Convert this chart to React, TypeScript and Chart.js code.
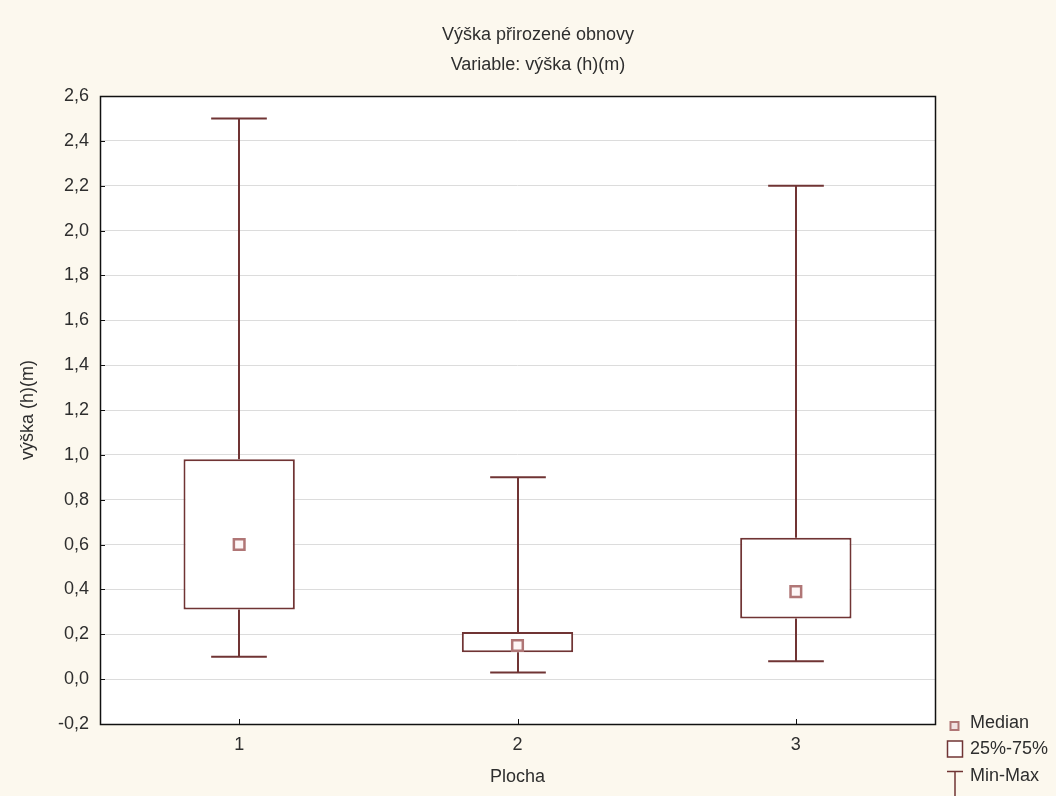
import { useEffect, useRef } from 'react';
import { Chart, registerables } from 'chart.js';

Chart.register(...registerables);

// Box-plot summary per plot (Plocha)
const plochy = ['1', '2', '3'];
const minima = [0.1, 0.03, 0.08];
const kvartil25 = [0.31, 0.12, 0.27];
const mediany = [0.6, 0.15, 0.39];
const kvartil75 = [0.98, 0.21, 0.63];
const maxima = [2.5, 0.9, 2.2];

const yMin = -0.2;
const yMax = 2.6;
const yStep = 0.2;

const titleLines = ['Výška přirozené obnovy', 'Variable: výška (h)(m)'];
const yTitle = 'výška (h)(m)';
const xTitle = 'Plocha';
const legendLabels = ['Median', '25%-75%', 'Min-Max'];

const FONT = "'Liberation Sans', Arial, sans-serif";
const FONT_SIZE = 18;
const PAGE_BG = '#fcf8ee';
const BOX_COLOR = '#703434';
const MEDIAN_COLOR = '#b07676';
const TEXT_COLOR = '#2e2e2e';

const W = 1056;
const H = 796;

const framePlugin = {
  id: 'frame',
  beforeDraw(chart: any) {
    const { ctx, chartArea: a } = chart;
    ctx.save();
    ctx.fillStyle = PAGE_BG;
    ctx.fillRect(0, 0, chart.width, chart.height);
    ctx.fillStyle = '#ffffff';
    ctx.fillRect(a.left, a.top, a.right - a.left, a.bottom - a.top);
    ctx.restore();
  },
  afterDraw(chart: any) {
    const { ctx, chartArea: a, scales } = chart;
    ctx.save();
    ctx.strokeStyle = '#111';
    ctx.lineWidth = 1.5;
    ctx.strokeRect(Math.round(a.left) + 0.5, Math.round(a.top) + 0.5,
      Math.round(a.right - a.left), Math.round(a.bottom - a.top));
    // inward tick marks
    ctx.lineWidth = 1;
    ctx.beginPath();
    const ys = scales.y;
    ys.ticks.forEach((_t: any, i: number) => {
      const py = Math.round(ys.getPixelForTick(i)) + 0.5;
      ctx.moveTo(a.left, py);
      ctx.lineTo(a.left + 5, py);
    });
    const xs = scales.x;
    plochy.forEach((_p, i) => {
      const px = Math.round(xs.getPixelForTick(i)) + 0.5;
      ctx.moveTo(px, a.bottom);
      ctx.lineTo(px, a.bottom - 5);
    });
    ctx.stroke();
    // two-line heading, centred on the page
    ctx.fillStyle = TEXT_COLOR;
    ctx.font = `${FONT_SIZE}px ${FONT}`;
    ctx.textAlign = 'center';
    ctx.textBaseline = 'middle';
    ctx.fillText(titleLines[0], 538, 35);
    ctx.fillText(titleLines[1], 538, 65);
    ctx.restore();
  },
};

const whiskerPlugin = {
  id: 'whiskers',
  beforeDatasetsDraw(chart: any) {
    const { ctx, scales } = chart;
    const meta = chart.getDatasetMeta(0);
    const ys = scales.y;
    ctx.save();
    ctx.strokeStyle = BOX_COLOR;
    ctx.lineWidth = 2;
    meta.data.forEach((bar: any, i: number) => {
      const { x, width } = bar.getProps(['x', 'width'], true);
      const cap = width / 4;
      const yMaxPx = ys.getPixelForValue(maxima[i]);
      const yQ3 = ys.getPixelForValue(kvartil75[i]);
      const yQ1 = ys.getPixelForValue(kvartil25[i]);
      const yMinPx = ys.getPixelForValue(minima[i]);
      const cx = Math.round(x);
      ctx.beginPath();
      ctx.moveTo(cx, yMaxPx);
      ctx.lineTo(cx, yQ3);
      ctx.moveTo(cx, yQ1);
      ctx.lineTo(cx, yMinPx);
      ctx.moveTo(cx - cap, yMaxPx);
      ctx.lineTo(cx + cap, yMaxPx);
      ctx.moveTo(cx - cap, yMinPx);
      ctx.lineTo(cx + cap, yMinPx);
      ctx.stroke();
    });
    ctx.restore();
  },
};

const legendPlugin = {
  id: 'sideLegend',
  afterDraw(chart: any) {
    const { ctx, chartArea: a } = chart;
    const x0 = a.right + 12;
    const b = a.bottom;
    ctx.save();
    // median marker
    ctx.fillStyle = '#f2e2e2';
    ctx.strokeStyle = MEDIAN_COLOR;
    ctx.lineWidth = 2;
    ctx.fillRect(x0 + 3.5, b - 2, 8, 8);
    ctx.strokeRect(x0 + 3.5, b - 2, 8, 8);
    // box icon
    ctx.strokeStyle = BOX_COLOR;
    ctx.lineWidth = 1.5;
    ctx.fillStyle = '#ffffff';
    ctx.fillRect(x0 + 0.5, b + 17, 15, 16);
    ctx.strokeRect(x0 + 0.5, b + 17, 15, 16);
    // min-max icon
    ctx.beginPath();
    ctx.moveTo(x0, b + 47.5);
    ctx.lineTo(x0 + 16, b + 47.5);
    ctx.moveTo(x0 + 8, b + 47.5);
    ctx.lineTo(x0 + 8, b + 72);
    ctx.stroke();
    // labels
    ctx.fillStyle = TEXT_COLOR;
    ctx.font = `${FONT_SIZE}px ${FONT}`;
    ctx.textAlign = 'left';
    ctx.textBaseline = 'middle';
    const tx = x0 + 23;
    ctx.fillText(legendLabels[0], tx, b - 1);
    ctx.fillText(legendLabels[1], tx, b + 25);
    ctx.fillText(legendLabels[2], tx, b + 52);
    ctx.restore();
  },
};

export default function App() {
  const canvasRef = useRef<HTMLCanvasElement | null>(null);

  useEffect(() => {
    const canvas = canvasRef.current;
    if (!canvas) return;
    const boxes = kvartil25.map((q, i) => [q, kvartil75[i]]);
    const chart = new Chart(canvas, {
      type: 'bar',
      data: {
        labels: plochy,
        datasets: [
          {
            type: 'bar',
            label: legendLabels[1],
            data: boxes as any,
            backgroundColor: '#ffffff',
            borderColor: BOX_COLOR,
            borderWidth: 2,
            borderSkipped: false,
            barPercentage: 0.4,
            categoryPercentage: 1,
            order: 2,
          },
          {
            type: 'line',
            label: legendLabels[0],
            data: mediany,
            showLine: false,
            pointStyle: 'rect',
            pointRadius: 7.5,
            pointBorderWidth: 2.5,
            pointBackgroundColor: '#fdf6f6',
            pointBorderColor: MEDIAN_COLOR,
            order: 1,
          } as any,
        ],
      },
      options: {
        responsive: false,
        animation: false,
        devicePixelRatio: 1,
        layout: { padding: { left: 0, right: 121, top: 96, bottom: 0 } },
        plugins: {
          legend: { display: false },
          tooltip: { enabled: false },
          title: { display: false },
        },
        scales: {
          x: {
            grid: { display: false, drawTicks: false },
            border: { display: false },
            ticks: {
              color: TEXT_COLOR,
              font: { family: FONT, size: FONT_SIZE },
              padding: 10,
            },
            title: {
              display: true,
              text: xTitle,
              color: TEXT_COLOR,
              font: { family: FONT, size: FONT_SIZE },
              padding: { top: 0, bottom: 8.2 },
            },
            afterFit(scale: any) {
              scale.height = 72;
            },
          },
          y: {
            min: yMin,
            max: yMax,
            grid: { color: '#dcdcdc', lineWidth: 1, drawTicks: false },
            border: { display: false },
            ticks: {
              stepSize: yStep,
              color: TEXT_COLOR,
              font: { family: FONT, size: FONT_SIZE },
              padding: 11,
              callback: (v: any) => Number(v).toFixed(1).replace('.', ','),
            },
            title: {
              display: true,
              text: yTitle,
              color: TEXT_COLOR,
              font: { family: FONT, size: FONT_SIZE },
              padding: { top: 17, bottom: 0 },
            },
            afterFit(scale: any) {
              scale.width = 100;
            },
          },
        },
      },
      plugins: [framePlugin, whiskerPlugin, legendPlugin],
    });
    return () => chart.destroy();
  }, []);

  return (
    <div style={{ position: 'fixed', left: 0, top: 0, width: W, height: H, background: PAGE_BG }}>
      <canvas ref={canvasRef} width={W} height={H} style={{ display: 'block', width: W, height: H }} />
    </div>
  );
}
